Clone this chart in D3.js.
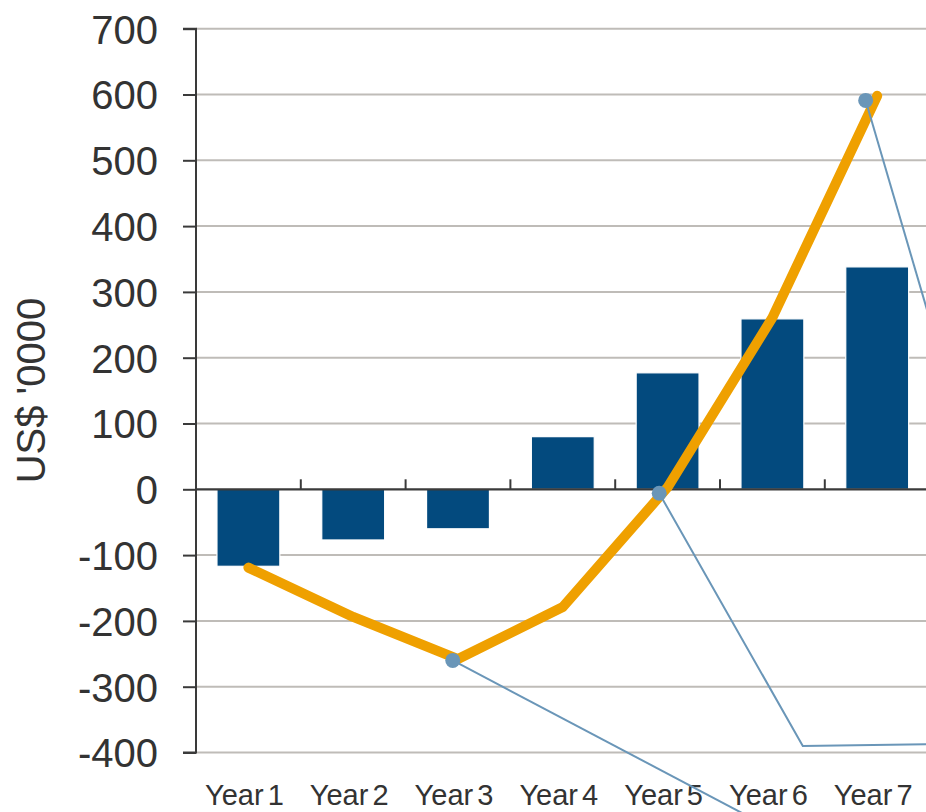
<!DOCTYPE html>
<html>
<head>
<meta charset="utf-8">
<script src="https://cdn.jsdelivr.net/npm/d3@7"></script>
<style>
  html, body { margin: 0; padding: 0; background: #fff; overflow: hidden; }
  svg { display: block; font-family: "Liberation Sans", Arial, sans-serif; }
</style>
</head>
<body>
<svg id="chart" width="926" height="812"></svg>
<script>
// ---- data ----
const categories = ["Year 1", "Year 2", "Year 3", "Year 4", "Year 5", "Year 6", "Year 7"];
const annualValues = [-117, -77, -60, 80, 177, 259, 338];        // bars
const cumulativeValues = [-119, -194, -258, -179, 3, 261, 598];   // orange line
const yTicks = [-400, -300, -200, -100, 0, 100, 200, 300, 400, 500, 600, 700];
const yTickLabels = ["-400", "-300", "-200", "-100", "0", "100", "200", "300", "400", "500", "600", "700"];
const yTitle = "US$ '0000";
// callout markers with leader lines (x in category-index units, y in data units)
const callouts = [
  [{ x: 2.45, y: -260 }, { x: 5.52, y: -518 }],
  [{ x: 4.42, y: -6 }, { x: 5.79, y: -390 }, { x: 7.10, y: -387 }],
  [{ x: 6.39, y: 591 }, { x: 7.10, y: 205 }]
];

// ---- layout ----
const plotLeft = 196, plotRight = 929.6, plotTop = 28.7, plotBottom = 752.5;
const svg = d3.select("#chart");

const x = d3.scaleBand().domain(categories).range([plotLeft, plotRight])
  .paddingInner(0.4).paddingOuter(0.2);
const xi = d3.scaleLinear().domain([0, categories.length]).range([plotLeft, plotRight]);
const y = d3.scaleLinear().domain([-400, 700]).range([plotBottom, plotTop]);

// gridlines
svg.append("g").selectAll("line")
  .data(yTicks.filter(d => d !== 0))
  .join("line")
  .attr("x1", plotLeft).attr("x2", plotRight + 5)
  .attr("y1", d => y(d)).attr("y2", d => y(d))
  .attr("stroke", "#bfbcb8").attr("stroke-width", 2);

// bars
svg.append("g").selectAll("rect")
  .data(annualValues)
  .join("rect")
  .attr("x", (d, i) => x(categories[i]))
  .attr("width", x.bandwidth())
  .attr("y", d => y(Math.max(0, d)))
  .attr("height", d => Math.abs(y(d) - y(0)))
  .attr("fill", "#034a7e")
  .attr("stroke", "#ffffff").attr("stroke-width", 1.2);

// y axis
const yAxis = d3.axisLeft(y).tickValues(yTicks).tickSize(13).tickPadding(25)
  .tickFormat((d, i) => yTickLabels[i]);
const gy = svg.append("g").attr("transform", `translate(${plotLeft},0)`).call(yAxis);
gy.select(".domain").attr("stroke", "#3a3a3a").attr("stroke-width", 2)
  .attr("d", `M-13,${y(700)}H0V${y(-400)}H-13`);
gy.selectAll(".tick line").attr("stroke", "#3a3a3a").attr("stroke-width", 2);
gy.selectAll(".tick text")
  .attr("fill", "#333333").attr("font-size", 40)
  .attr("font-family", "'Liberation Sans', Arial, sans-serif")
  .attr("dy", "0.358em");

// x axis at zero with ticks between categories, pointing up
const boundaries = d3.range(categories.length + 1);
const gx = svg.append("g");
gx.append("line")
  .attr("x1", plotLeft).attr("x2", plotRight + 5)
  .attr("y1", y(0)).attr("y2", y(0))
  .attr("stroke", "#3a3a3a").attr("stroke-width", 2.2);
gx.selectAll("line.tk").data(boundaries).join("line").attr("class", "tk")
  .attr("x1", d => xi(d)).attr("x2", d => xi(d))
  .attr("y1", y(0)).attr("y2", y(0) - 10)
  .attr("stroke", "#3a3a3a").attr("stroke-width", 2);

// x labels
svg.append("g").selectAll("text")
  .data(categories)
  .join("text")
  .attr("x", d => x(d) + x.bandwidth() / 2 - 4)
  .attr("y", 805)
  .attr("text-anchor", "middle")
  .attr("font-size", 29)
  .attr("word-spacing", "-4px")
  .attr("fill", "#333333")
  .text(d => d);

// y title
svg.append("text")
  .attr("transform", `translate(45,${(plotTop + plotBottom) / 2}) rotate(-90)`)
  .attr("text-anchor", "middle")
  .attr("font-size", 40)
  .attr("fill", "#333333")
  .text(yTitle);

// cumulative line
const line = d3.line()
  .x((d, i) => x(categories[i]) + x.bandwidth() / 2)
  .y(d => y(d));
svg.append("path")
  .datum(cumulativeValues)
  .attr("d", line)
  .attr("fill", "none")
  .attr("stroke", "#efa000")
  .attr("stroke-width", 10)
  .attr("stroke-linecap", "round")
  .attr("stroke-linejoin", "round");

// callout leader lines and markers
const leader = d3.line().x(d => xi(d.x)).y(d => y(d.y));
svg.append("g").selectAll("path")
  .data(callouts)
  .join("path")
  .attr("d", leader)
  .attr("fill", "none")
  .attr("stroke", "#6a96b8")
  .attr("stroke-width", 2);
svg.append("g").selectAll("circle")
  .data(callouts.map(c => c[0]))
  .join("circle")
  .attr("cx", d => xi(d.x)).attr("cy", d => y(d.y))
  .attr("r", 7.5)
  .attr("fill", "#6a96b8");
</script>
</body>
</html>
